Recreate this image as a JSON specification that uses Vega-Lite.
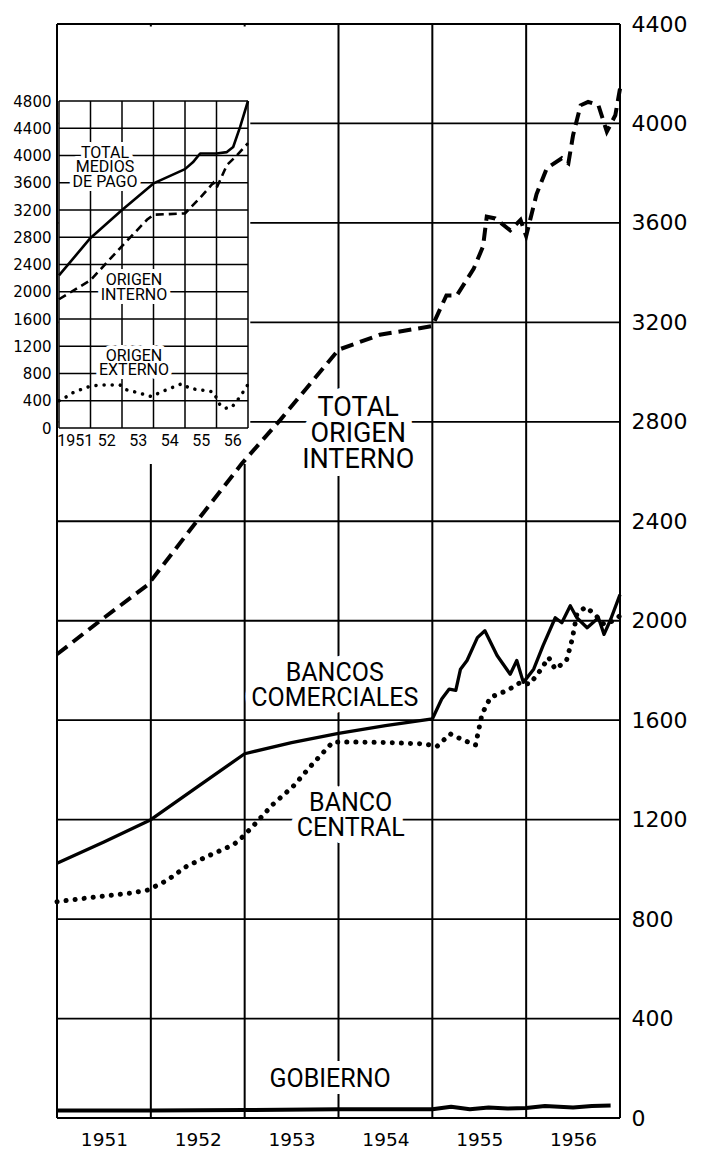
{
  "$schema": "https://vega.github.io/schema/vega-lite/v6.json",
  "width": 563,
  "height": 1094,
  "autosize": "none",
  "padding": {"left": 57, "top": 24, "right": 85, "bottom": 32},
  "background": "white",
  "config": {
    "view": {"stroke": null},
    "axis": {"grid": false, "ticks": false, "tickSize": 0, "domain": false, "labelColor": "black", "labelFlush": false, "labelOverlap": false}
  },
  "datasets": {
    "years": [{"year": 1951}, {"year": 1952}, {"year": 1953}, {"year": 1954}, {"year": 1955}, {"year": 1956}, {"year": 1957}],
    "mainlevels": [{"value": 0}, {"value": 400}, {"value": 800}, {"value": 1200}, {"value": 1600}, {"value": 2000}, {"value": 2400}, {"value": 2800}, {"value": 3200}, {"value": 3600}, {"value": 4000}, {"value": 4400}],
    "insetlevels": [{"value": 0}, {"value": 400}, {"value": 800}, {"value": 1200}, {"value": 1600}, {"value": 2000}, {"value": 2400}, {"value": 2800}, {"value": 3200}, {"value": 3600}, {"value": 4000}, {"value": 4400}, {"value": 4800}],
    "interno": [
      {"year": 1951.0, "value": 1865}, {"year": 1951.46, "value": 2000}, {"year": 1951.97, "value": 2145},
      {"year": 1952.49, "value": 2400}, {"year": 1952.97, "value": 2632}, {"year": 1953.38, "value": 2808},
      {"year": 1954.0, "value": 3090}, {"year": 1954.44, "value": 3150}, {"year": 1955.0, "value": 3185},
      {"year": 1955.1, "value": 3268}, {"year": 1955.15, "value": 3308}, {"year": 1955.26, "value": 3308},
      {"year": 1955.44, "value": 3415}, {"year": 1955.54, "value": 3505}, {"year": 1955.58, "value": 3625},
      {"year": 1955.67, "value": 3618}, {"year": 1955.83, "value": 3570}, {"year": 1955.94, "value": 3612},
      {"year": 1956.0, "value": 3547}, {"year": 1956.11, "value": 3715}, {"year": 1956.22, "value": 3820},
      {"year": 1956.38, "value": 3860}, {"year": 1956.45, "value": 3840}, {"year": 1956.5, "value": 3953},
      {"year": 1956.58, "value": 4073}, {"year": 1956.66, "value": 4087}, {"year": 1956.77, "value": 4073},
      {"year": 1956.86, "value": 3967}, {"year": 1956.95, "value": 4033}, {"year": 1957.0, "value": 4140}
    ],
    "comerciales": [
      {"year": 1951.0, "value": 1025}, {"year": 1951.5, "value": 1110}, {"year": 1952.0, "value": 1200},
      {"year": 1952.5, "value": 1333}, {"year": 1953.0, "value": 1465}, {"year": 1953.5, "value": 1510},
      {"year": 1954.0, "value": 1547}, {"year": 1954.5, "value": 1578}, {"year": 1955.0, "value": 1605},
      {"year": 1955.1, "value": 1685}, {"year": 1955.18, "value": 1725}, {"year": 1955.25, "value": 1720},
      {"year": 1955.3, "value": 1805}, {"year": 1955.37, "value": 1840}, {"year": 1955.48, "value": 1932},
      {"year": 1955.56, "value": 1960}, {"year": 1955.69, "value": 1860}, {"year": 1955.83, "value": 1785},
      {"year": 1955.9, "value": 1840}, {"year": 1955.97, "value": 1752}, {"year": 1956.08, "value": 1805},
      {"year": 1956.18, "value": 1900}, {"year": 1956.31, "value": 2012}, {"year": 1956.38, "value": 1992},
      {"year": 1956.47, "value": 2060}, {"year": 1956.54, "value": 2012}, {"year": 1956.65, "value": 1972},
      {"year": 1956.77, "value": 2012}, {"year": 1956.83, "value": 1945}, {"year": 1956.9, "value": 2005},
      {"year": 1957.0, "value": 2105}
    ],
    "central": [
      {"year": 1951.0, "value": 870}, {"year": 1951.39, "value": 888}, {"year": 1951.78, "value": 904},
      {"year": 1951.97, "value": 917}, {"year": 1952.17, "value": 955}, {"year": 1952.38, "value": 1012},
      {"year": 1952.6, "value": 1052}, {"year": 1952.88, "value": 1099}, {"year": 1952.95, "value": 1120},
      {"year": 1953.09, "value": 1174}, {"year": 1953.3, "value": 1261}, {"year": 1953.52, "value": 1335},
      {"year": 1953.72, "value": 1422}, {"year": 1953.94, "value": 1512}, {"year": 1954.2, "value": 1512},
      {"year": 1954.5, "value": 1510}, {"year": 1954.9, "value": 1505}, {"year": 1955.05, "value": 1495},
      {"year": 1955.19, "value": 1545}, {"year": 1955.33, "value": 1520}, {"year": 1955.46, "value": 1500},
      {"year": 1955.53, "value": 1625}, {"year": 1955.62, "value": 1692}, {"year": 1955.8, "value": 1720},
      {"year": 1955.94, "value": 1752}, {"year": 1956.04, "value": 1745}, {"year": 1956.15, "value": 1800},
      {"year": 1956.24, "value": 1852}, {"year": 1956.31, "value": 1805}, {"year": 1956.43, "value": 1840},
      {"year": 1956.49, "value": 1925}, {"year": 1956.54, "value": 2025}, {"year": 1956.63, "value": 2055},
      {"year": 1956.72, "value": 2030}, {"year": 1956.83, "value": 1985}, {"year": 1956.93, "value": 2000},
      {"year": 1957.0, "value": 2020}
    ],
    "gobierno": [
      {"year": 1951.0, "value": 30}, {"year": 1952.0, "value": 30}, {"year": 1953.0, "value": 32},
      {"year": 1954.0, "value": 35}, {"year": 1955.0, "value": 35}, {"year": 1955.2, "value": 45},
      {"year": 1955.4, "value": 35}, {"year": 1955.6, "value": 42}, {"year": 1955.8, "value": 38},
      {"year": 1956.0, "value": 40}, {"year": 1956.2, "value": 48}, {"year": 1956.5, "value": 42},
      {"year": 1956.7, "value": 48}, {"year": 1956.9, "value": 50}
    ],
    "medios": [
      {"year": 1951.0, "value": 2240}, {"year": 1952.0, "value": 2790}, {"year": 1953.0, "value": 3200},
      {"year": 1954.0, "value": 3590}, {"year": 1955.0, "value": 3800}, {"year": 1955.25, "value": 3900},
      {"year": 1955.48, "value": 4030}, {"year": 1956.0, "value": 4030}, {"year": 1956.33, "value": 4050},
      {"year": 1956.53, "value": 4125}, {"year": 1956.75, "value": 4420}, {"year": 1957.0, "value": 4800}
    ],
    "internoInset": [
      {"year": 1951.0, "value": 1890}, {"year": 1952.0, "value": 2170}, {"year": 1953.0, "value": 2670},
      {"year": 1953.8, "value": 3060}, {"year": 1954.0, "value": 3130}, {"year": 1954.5, "value": 3140},
      {"year": 1955.0, "value": 3150}, {"year": 1955.48, "value": 3380}, {"year": 1955.9, "value": 3600},
      {"year": 1956.0, "value": 3520}, {"year": 1956.33, "value": 3860}, {"year": 1956.6, "value": 3980},
      {"year": 1957.0, "value": 4180}
    ],
    "externoInset": [
      {"year": 1951.0, "value": 400}, {"year": 1951.08, "value": 410}, {"year": 1951.4, "value": 510},
      {"year": 1951.67, "value": 560}, {"year": 1952.0, "value": 615}, {"year": 1952.3, "value": 630},
      {"year": 1952.94, "value": 630}, {"year": 1953.15, "value": 560}, {"year": 1953.57, "value": 510},
      {"year": 1953.94, "value": 460}, {"year": 1954.2, "value": 520}, {"year": 1954.52, "value": 580},
      {"year": 1954.9, "value": 650}, {"year": 1955.16, "value": 580}, {"year": 1955.48, "value": 560},
      {"year": 1955.9, "value": 530}, {"year": 1956.1, "value": 350}, {"year": 1956.27, "value": 290},
      {"year": 1956.48, "value": 300}, {"year": 1956.75, "value": 460}, {"year": 1957.0, "value": 640}
    ],
    "bigLabel": [{"label": "TOTAL\nORIGEN\nINTERNO", "year": 1954.21, "value": 2855}],
    "mainLabels": [
      {"label": "BANCOS\nCOMERCIALES", "year": 1953.96, "value": 1790},
      {"label": "BANCO\nCENTRAL", "year": 1954.13, "value": 1267},
      {"label": "GOBIERNO", "year": 1953.91, "value": 157}
    ],
    "insetLabels": [
      {"label": "TOTAL\nMEDIOS\nDE PAGO", "year": 1952.46, "value": 4037},
      {"label": "ORIGEN\nINTERNO", "year": 1953.38, "value": 2172},
      {"label": "ORIGEN\nEXTERNO", "year": 1953.38, "value": 1057}
    ]
  },
  "layer": [
    {
      "layer": [
        {
          "data": {"name": "years"},
          "mark": {"type": "rule", "stroke": "black", "strokeWidth": 2},
          "encoding": {
            "x": {"field": "year", "type": "quantitative", "title": null,
              "scale": {"domain": [1951, 1957], "nice": false, "zero": false},
              "axis": {"orient": "bottom", "title": null, "values": [1951.5, 1952.5, 1953.5, 1954.5, 1955.5, 1956.5], "labelExpr": "'' + floor(datum.value)", "labelFont": "DejaVu Sans", "labelFontSize": 18.5, "labelPadding": 12}}
          }
        },
        {
          "data": {"name": "mainlevels"},
          "mark": {"type": "rule", "stroke": "black", "strokeWidth": 1.8},
          "encoding": {
            "y": {"field": "value", "type": "quantitative", "title": null,
              "scale": {"domain": [0, 4400], "nice": false, "zero": false},
              "axis": {"orient": "right", "title": null, "values": [0, 400, 800, 1200, 1600, 2000, 2400, 2800, 3200, 3600, 4000, 4400], "format": "d", "labelFont": "DejaVu Sans", "labelFontSize": 22, "labelPadding": 11}}
          }
        },
        {
          "data": {"values": [{}]},
          "mark": {"type": "rect", "fill": "white"},
          "encoding": {
            "x": {"datum": 1951.015, "type": "quantitative"},
            "x2": {"datum": 1953.06},
            "y": {"datum": 2630, "type": "quantitative"},
            "y2": {"datum": 4390}
          }
        },
        {
          "data": {"name": "bigLabel"},
          "mark": {"type": "text", "font": "Roboto", "fontSize": 27, "lineBreak": "\n", "lineHeight": 26, "align": "center", "baseline": "middle", "fill": "white", "stroke": "white", "strokeWidth": 16, "strokeJoin": "round"},
          "encoding": {
            "x": {"field": "year", "type": "quantitative", "title": null},
            "y": {"field": "value", "type": "quantitative", "title": null},
            "text": {"field": "label"}
          }
        },
        {
          "data": {"name": "mainLabels"},
          "mark": {"type": "text", "font": "Roboto", "fontSize": 25, "lineBreak": "\n", "lineHeight": 25, "align": "center", "baseline": "middle", "fill": "white", "stroke": "white", "strokeWidth": 14, "strokeJoin": "round"},
          "encoding": {
            "x": {"field": "year", "type": "quantitative", "title": null},
            "y": {"field": "value", "type": "quantitative", "title": null},
            "text": {"field": "label"}
          }
        },
        {
          "data": {"name": "interno"},
          "mark": {"type": "line", "stroke": "black", "strokeWidth": 4, "strokeDash": [13, 7]},
          "encoding": {
            "x": {"field": "year", "type": "quantitative", "title": null},
            "y": {"field": "value", "type": "quantitative", "title": null}
          }
        },
        {
          "data": {"name": "comerciales"},
          "mark": {"type": "line", "stroke": "black", "strokeWidth": 3.3, "strokeJoin": "round"},
          "encoding": {
            "x": {"field": "year", "type": "quantitative", "title": null},
            "y": {"field": "value", "type": "quantitative", "title": null}
          }
        },
        {
          "data": {"name": "central"},
          "mark": {"type": "line", "stroke": "black", "strokeWidth": 5, "strokeDash": [0.1, 9], "strokeCap": "round"},
          "encoding": {
            "x": {"field": "year", "type": "quantitative", "title": null},
            "y": {"field": "value", "type": "quantitative", "title": null}
          }
        },
        {
          "data": {"name": "gobierno"},
          "mark": {"type": "line", "stroke": "black", "strokeWidth": 4, "strokeJoin": "round"},
          "encoding": {
            "x": {"field": "year", "type": "quantitative", "title": null},
            "y": {"field": "value", "type": "quantitative", "title": null}
          }
        },
        {
          "data": {"name": "bigLabel"},
          "mark": {"type": "text", "font": "Roboto", "fontSize": 27, "lineBreak": "\n", "lineHeight": 26, "align": "center", "baseline": "middle", "fill": "black"},
          "encoding": {
            "x": {"field": "year", "type": "quantitative", "title": null},
            "y": {"field": "value", "type": "quantitative", "title": null},
            "text": {"field": "label"}
          }
        },
        {
          "data": {"name": "mainLabels"},
          "mark": {"type": "text", "font": "Roboto", "fontSize": 25, "lineBreak": "\n", "lineHeight": 25, "align": "center", "baseline": "middle", "fill": "black"},
          "encoding": {
            "x": {"field": "year", "type": "quantitative", "title": null},
            "y": {"field": "value", "type": "quantitative", "title": null},
            "text": {"field": "label"}
          }
        }
      ]
    },
    {
      "layer": [
        {
          "data": {"name": "years"},
          "mark": {"type": "rule", "stroke": "black", "strokeWidth": 1.5},
          "encoding": {
            "x": {"field": "year", "type": "quantitative", "title": null,
              "scale": {"domain": [1951, 1957], "nice": false, "zero": false, "range": [2, 191]},
              "axis": {"orient": "bottom", "title": null, "offset": -690, "zindex": 1, "values": [1951.5, 1952.5, 1953.5, 1954.5, 1955.5, 1956.5], "labelExpr": "datum.value < 1952 ? '1951' : '' + (floor(datum.value) - 1900)", "labelFont": "Roboto", "labelFontSize": 16, "labelPadding": 4}},
            "y": {"datum": 0, "type": "quantitative"},
            "y2": {"datum": 4800}
          }
        },
        {
          "data": {"name": "insetlevels"},
          "mark": {"type": "rule", "stroke": "black", "strokeWidth": 1.5},
          "encoding": {
            "y": {"field": "value", "type": "quantitative", "title": null,
              "scale": {"domain": [0, 4800], "nice": false, "zero": false, "range": [404, 77]},
              "axis": {"orient": "left", "title": null, "zindex": 1, "values": [0, 400, 800, 1200, 1600, 2000, 2400, 2800, 3200, 3600, 4000, 4400, 4800], "format": "d", "labelFont": "DejaVu Sans", "labelFontSize": 15, "labelPadding": 6}},
            "x": {"datum": 1951, "type": "quantitative"},
            "x2": {"datum": 1957}
          }
        },
        {
          "data": {"name": "insetLabels"},
          "mark": {"type": "text", "font": "Roboto", "fontSize": 16, "lineBreak": "\n", "lineHeight": 14.5, "align": "center", "baseline": "middle", "fill": "white", "stroke": "white", "strokeWidth": 8, "strokeJoin": "round"},
          "encoding": {
            "x": {"field": "year", "type": "quantitative", "title": null},
            "y": {"field": "value", "type": "quantitative", "title": null},
            "text": {"field": "label"}
          }
        },
        {
          "data": {"name": "medios"},
          "mark": {"type": "line", "stroke": "black", "strokeWidth": 2.6, "strokeJoin": "round"},
          "encoding": {
            "x": {"field": "year", "type": "quantitative", "title": null},
            "y": {"field": "value", "type": "quantitative", "title": null}
          }
        },
        {
          "data": {"name": "internoInset"},
          "mark": {"type": "line", "stroke": "black", "strokeWidth": 2.6, "strokeDash": [8, 5]},
          "encoding": {
            "x": {"field": "year", "type": "quantitative", "title": null},
            "y": {"field": "value", "type": "quantitative", "title": null}
          }
        },
        {
          "data": {"name": "externoInset"},
          "mark": {"type": "line", "stroke": "black", "strokeWidth": 3.5, "strokeDash": [0.1, 8], "strokeCap": "round"},
          "encoding": {
            "x": {"field": "year", "type": "quantitative", "title": null},
            "y": {"field": "value", "type": "quantitative", "title": null}
          }
        },
        {
          "data": {"name": "insetLabels"},
          "mark": {"type": "text", "font": "Roboto", "fontSize": 16, "lineBreak": "\n", "lineHeight": 14.5, "align": "center", "baseline": "middle", "fill": "black"},
          "encoding": {
            "x": {"field": "year", "type": "quantitative", "title": null},
            "y": {"field": "value", "type": "quantitative", "title": null},
            "text": {"field": "label"}
          }
        }
      ]
    }
  ],
  "resolve": {"scale": {"x": "independent", "y": "independent"}}
}
